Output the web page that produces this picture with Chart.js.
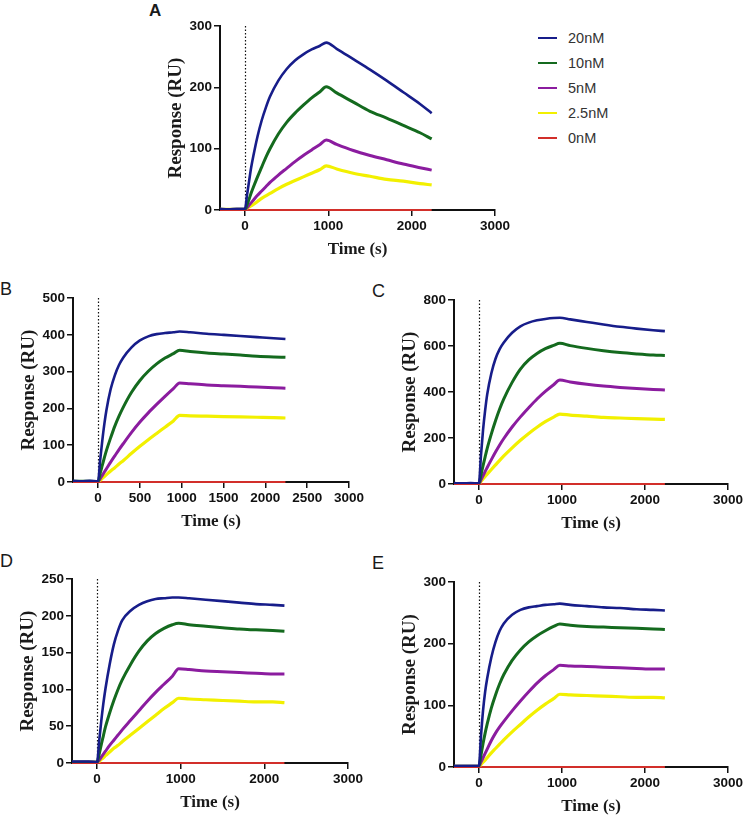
<!DOCTYPE html>
<html><head><meta charset="utf-8">
<script src="https://cdn.jsdelivr.net/npm/chart.js@4.4.1/dist/chart.umd.min.js"></script>
<style>
html,body{margin:0;padding:0;background:#fff;width:745px;height:815px;overflow:hidden;position:relative;font-family:"Liberation Sans",Arial,sans-serif}
canvas{position:absolute}
.lbl{position:absolute;line-height:1;color:#1a1a1a;white-space:nowrap}
.leg{position:absolute;left:538px;width:19px;height:2px}
.legt{position:absolute;left:568px;font-size:14.5px;line-height:1;color:#333}
</style></head><body>
<div class="lbl" style="left:149px;top:2px;font-size:17px;font-weight:bold">A</div>
<div class="lbl" style="left:0px;top:280px;font-size:18px">B</div>
<div class="lbl" style="left:372px;top:282px;font-size:18px">C</div>
<div class="lbl" style="left:0px;top:552px;font-size:18px">D</div>
<div class="lbl" style="left:372px;top:554px;font-size:18px">E</div>
<div id="legend"></div>
<canvas id="cA"></canvas><canvas id="cB"></canvas><canvas id="cC"></canvas><canvas id="cD"></canvas><canvas id="cE"></canvas>
<script>
// ---------- data ----------
const times = [-300,-200,-100,0,25,50,75,100,150,200,250,300,400,500,600,700,800,900,975,1100,1300,1500,1700,1900,2100,2240];
const seriesNames = ['20nM','10nM','5nM','2.5nM','0nM'];
const zeroLine = [0,0,0,0,0,0,0,0,0,0,0,0,0,0,0,0,0,0,0,0,0,0,0,0,0,0];

const aXTicks = [0,1000,2000,3000];
const bXTicks = [0,500,1000,1500,2000,2500,3000];
const cXTicks = [0,1000,2000,3000];
const aYTicks = [0,100,200,300];
const bYTicks = [0,100,200,300,400,500];
const cYTicks = [0,200,400,600,800];
const dYTicks = [0,50,100,150,200,250];
const eYTicks = [0,100,200,300];

const a20  = [2,1,2, 2,25,48,70,88,120,146,167,185,211,230,244,254,262,268,273,263,246,229,211,192,173,158];
const a10  = [1,1,1, 1,9,18,28,37,54,70,86,100,124,143,158,171,183,193,201,191,176,161,150,138,126,116];
const a5   = [1,1,1, 1,4,8,12,16,24,31,38,45,57,68,79,89,98,107,114,107,97,89,82,75,69,65];
const a25  = [1,1,1, 1,3,5,7,9,14,19,23,27,35,42,48,54,60,66,72,67,60,55,50,47,43,41];

const b20  = [3,2,3, 2,60,112,158,196,252,290,318,338,366,385,396,402,405,407,409,407,403,400,397,394,391,389];
const b10  = [2,2,2, 1,24,45,66,86,120,152,179,203,244,276,301,321,337,349,358,355,351,348,345,342,340,339];
const b5   = [1,1,1, 1,9,18,27,36,54,71,88,104,135,163,188,211,233,254,269,267,264,262,260,258,256,255];
const b25  = [1,1,1, 1,5,10,15,20,30,39,49,58,78,97,115,132,149,166,181,180,179,178,177,176,175,174];

const c20  = [4,3,4, 3,125,235,320,390,482,545,587,616,658,686,702,712,718,722,723,716,705,694,684,676,669,665];
const c10  = [2,2,2, 2,40,80,118,155,218,275,326,370,442,500,540,568,589,603,612,602,590,580,572,566,561,559];
const c5   = [1,1,1, 1,18,36,54,72,106,139,170,198,248,292,332,370,403,432,452,444,434,426,420,415,411,409];
const c25  = [1,1,1, 1,11,22,33,43,63,83,103,122,157,190,220,247,271,291,304,300,295,290,287,284,282,281];

const d20  = [2,2,2, 1,30,57,81,101,134,161,180,194,207,215,220,223,224,225,225,224,222,220,218,216,215,214];
const d10  = [1,1,1, 1,12,25,37,49,68,85,100,113,134,152,166,176,183,188,190,188,186,184,182,181,180,179];
const d5   = [1,1,1, 1,4,8,12,16,24,31,38,45,58,71,84,96,107,118,128,127,125,124,123,122,121,121];
const d25  = [1,1,1, 1,2,5,7,10,15,20,24,29,38,47,56,65,74,82,88,87,86,85,84,83,83,82];

const e20  = [2,2,2, 2,50,92,122,144,178,203,221,233,247,255,259,261,263,264,265,263,261,259,258,256,255,254];
const e10  = [1,1,1, 1,19,38,55,70,96,117,135,150,173,190,203,213,221,228,232,230,228,227,226,225,224,223];
const e5   = [1,1,1, 1,8,15,22,29,43,55,65,74,91,107,122,136,148,158,165,164,163,162,161,160,159,159];
const e25  = [1,1,1, 1,4,8,11,15,23,30,37,44,57,69,81,92,102,111,118,117,116,115,114,113,113,112];

// ---------- styles ----------
const seriesColors = ['#171d8a','#146a1e','#8b1c9f','#f2f000','#d22f2a'];
const seriesWidths = [2.6,3,3,3.2,2];
const tickFont = {family:'"Liberation Sans", Arial, sans-serif', weight:'bold', size:13.5};
const titleFontFamily = '"Liberation Serif", "Times New Roman", serif';

// legend (HTML)
const legRows = [31,56,81,106,131];
let legHtml = '';
seriesNames.forEach((n,i)=>{
  legHtml += `<div class="leg" style="top:${legRows[i]+6}px;background:${seriesColors[i]}"></div>`;
  legHtml += `<div class="legt" style="top:${legRows[i]}px">${n}</div>`;
});
document.getElementById('legend').innerHTML = legHtml;

const zeroDotPlugin = {
  id:'zeroDot',
  beforeDatasetsDraw(chart){
    const {ctx, scales:{x,y}} = chart;
    const px = Math.round(x.getPixelForValue(0)) + 0.5;
    ctx.save();
    ctx.strokeStyle = '#111';
    ctx.lineWidth = 1.2;
    ctx.setLineDash([1.5,2]);
    ctx.beginPath();
    ctx.moveTo(px, y.getPixelForValue(y.max));
    ctx.lineTo(px, y.getPixelForValue(0));
    ctx.stroke();
    ctx.restore();
  }
};

function panel(id, area, padR, xTicks, yTicks, series){
  const W = 60, PT = 10, HX = 50;
  const cv = document.getElementById(id);
  const w = W + (area.r - area.l) + padR;
  const h = PT + (area.b - area.t) + HX;
  cv.width = w; cv.height = h;
  cv.style.left = (area.l - W) + 'px';
  cv.style.top = (area.t - PT) + 'px';
  cv.style.width = w + 'px'; cv.style.height = h + 'px';
  const datasets = series.map((vals,i)=>({
    label: seriesNames[i],
    data: times.map((t,k)=>({x:t, y:vals[k]})),
    borderColor: seriesColors[i],
    borderWidth: seriesWidths[i],
    pointRadius: 0,
    cubicInterpolationMode: 'monotone',
    clip: i === 4 ? false : undefined,
    fill: false
  }));
  new Chart(cv, {
    type:'line',
    data:{datasets},
    plugins:[zeroDotPlugin],
    options:{
      responsive:false, animation:false, devicePixelRatio:1,
      layout:{padding:{left:0, top:PT, right:padR, bottom:0}},
      plugins:{legend:{display:false}, tooltip:{enabled:false}},
      scales:{
        x:{type:'linear', min:-300, max:3000,
          afterBuildTicks:s=>{ s.ticks = xTicks.map(v=>({value:v})); },
          afterFit:s=>{ s.height = HX; },
          grid:{drawOnChartArea:false, drawTicks:true, tickLength:6, color:'#111', lineWidth:1.5},
          border:{display:true, color:'#111', width:2},
          ticks:{font:tickFont, color:'#111', padding:2, maxRotation:0, autoSkip:false, callback:v=>String(v)},
          title:{display:true, text:'Time (s)', color:'#1a1a1a', font:{family:titleFontFamily, weight:'bold', size:17}, padding:{top:0,bottom:0}}
        },
        y:{type:'linear', min:0, max:yTicks[yTicks.length-1],
          afterBuildTicks:s=>{ s.ticks = yTicks.map(v=>({value:v})); },
          afterFit:s=>{ s.width = W; },
          grid:{drawOnChartArea:false, drawTicks:true, tickLength:6, color:'#111', lineWidth:1.5},
          border:{display:true, color:'#111', width:2},
          ticks:{font:tickFont, color:'#111', padding:2, autoSkip:false, callback:v=>String(v)},
          title:{display:true, text:'Response (RU)', color:'#1a1a1a', font:{family:titleFontFamily, weight:'bold', size:19}, padding:{top:5,bottom:0}}
        }
      }
    }
  });
}

panel('cA', {l:220, r:495, t:26,  b:210}, 20, aXTicks, aYTicks, [a20,a10,a5,a25,zeroLine]);
panel('cB', {l:73,  r:349, t:298, b:482}, 20, bXTicks, bYTicks, [b20,b10,b5,b25,zeroLine]);
panel('cC', {l:454, r:730, t:300, b:484}, 15, cXTicks, cYTicks, [c20,c10,c5,c25,zeroLine]);
panel('cD', {l:72,  r:348, t:579, b:763}, 20, cXTicks, dYTicks, [d20,d10,d5,d25,zeroLine]);
panel('cE', {l:454, r:730, t:582, b:767}, 15, cXTicks, eYTicks, [e20,e10,e5,e25,zeroLine]);
</script>
</body></html>
